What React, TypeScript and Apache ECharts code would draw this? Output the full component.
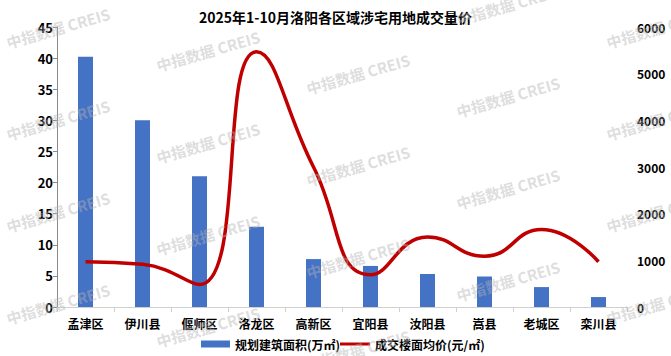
import React, { useEffect, useRef } from "react";
import * as echarts from "echarts";

const title = "2025年1-10月洛阳各区域涉宅用地成交量价";
const categories = ["孟津区", "伊川县", "偃师区", "洛龙区", "高新区", "宜阳县", "汝阳县", "嵩县", "老城区", "栾川县"];
const areaName = "规划建筑面积(万㎡)";
const priceName = "成交楼面均价(元/㎡)";
const areaValues = [40.2, 30.0, 21.0, 12.9, 7.7, 6.6, 5.3, 4.9, 3.2, 1.6];
const priceValues = [970, 915, 480, 5470, 3000, 690, 1500, 1090, 1660, 970];
const watermark = "中指数据 CREIS";

const FONT = '"Noto Sans CJK SC", "Noto Sans", sans-serif';

export default function App() {
  const ref = useRef<HTMLDivElement>(null);
  useEffect(() => {
    if (!ref.current) return;
    const chart = echarts.init(ref.current, null, { renderer: "svg" });
    const marks: any[] = [];
    for (let i = -1; i < 6; i++) {
      for (let j = -2; j < 6; j++) {
        const cx = 58 + 150 * i;
        const cy = 28 + 23 * i + 92 * j;
        if (cx < -50 || cx > 730 || cy < -10 || cy > 370) continue;
        marks.push({
          type: "text",
          x: cx,
          y: cy,
          rotation: (16 * Math.PI) / 180,
          z: 100,
          silent: true,
          style: {
            text: watermark,
            fontFamily: FONT,
            fontSize: 15,
            fontWeight: "bold",
            fill: "rgba(180,180,180,0.45)",
            align: "center",
            verticalAlign: "middle",
          },
        });
      }
    }
    const legendText = { fontFamily: FONT, fontSize: 12, fontWeight: "bold", color: "#000" };
    chart.setOption({
      animation: false,
      textStyle: { fontFamily: FONT },
      title: {
        text: title,
        left: "center",
        top: 5,
        textStyle: { fontFamily: FONT, fontSize: 14, fontWeight: "bold", color: "#000" },
      },
      grid: { left: 57, right: 44, top: 27, bottom: 49, containLabel: false },
      legend: [
        {
          left: 196,
          top: 333,
          itemWidth: 29,
          itemHeight: 7,
          textStyle: legendText,
          data: [{ name: areaName, icon: "rect" }],
        },
        {
          left: 335,
          top: 333,
          itemWidth: 30,
          itemHeight: 3,
          textStyle: legendText,
          data: [{ name: priceName, icon: "rect" }],
        },
      ],
      xAxis: {
        type: "category",
        data: categories,
        axisLine: { lineStyle: { color: "#d0d0d0", width: 1 } },
        axisTick: { show: true, length: 5, lineStyle: { color: "#d0d0d0" } },
        axisLabel: { color: "#000", fontSize: 12, fontWeight: "bold", fontFamily: FONT, margin: 10 },
      },
      yAxis: [
        {
          type: "value",
          min: 0,
          max: 45,
          interval: 5,
          splitLine: { show: false },
          axisLine: { show: true, lineStyle: { color: "#8a8a8a" } },
          axisTick: { show: true, length: 4, lineStyle: { color: "#8a8a8a" } },
          axisLabel: { color: "#000", fontSize: 13, fontWeight: "bold", fontFamily: FONT, margin: 4 },
        },
        {
          type: "value",
          min: 0,
          max: 6000,
          interval: 1000,
          splitLine: { show: false },
          axisLine: { show: false },
          axisTick: { show: false },
          axisLabel: {
            color: "#000",
            fontSize: 12,
            fontWeight: "bold",
            fontFamily: FONT,
            margin: 10,
            formatter: (v: number) => String(v),
          },
        },
      ],
      series: [
        {
          name: areaName,
          type: "bar",
          data: areaValues,
          barWidth: 15,
          itemStyle: { color: "#4472C4" },
        },
        {
          name: priceName,
          type: "line",
          yAxisIndex: 1,
          data: priceValues,
          smooth: 0.5,
          symbol: "none",
          lineStyle: { color: "#C00000", width: 3.5 },
          itemStyle: { color: "#C00000" },
        },
      ],
      graphic: marks,
    });
    return () => chart.dispose();
  }, []);
  return <div ref={ref} style={{ width: 671, height: 356, position: "absolute", left: 0, top: 0 }} />;
}
